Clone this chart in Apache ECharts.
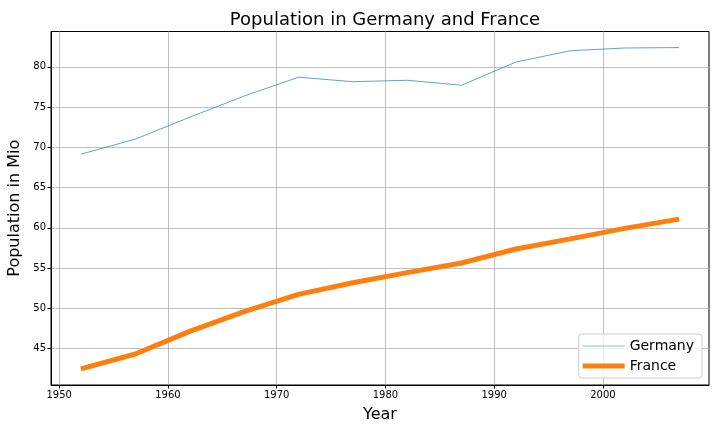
<!DOCTYPE html>
<html><head><meta charset="utf-8">
<script src="https://cdn.jsdelivr.net/npm/echarts@6/dist/echarts.min.js"></script>
<style>html,body{margin:0;padding:0;background:#fff}#c{width:720px;height:432px}</style>
</head><body><div id="c"></div>
<script>
const years = [1952,1957,1962,1967,1972,1977,1982,1987,1992,1997,2002,2007];
const germany = [69.15,71.02,73.74,76.37,78.72,78.16,78.34,77.72,80.60,82.01,82.35,82.40];
const france = [42.46,44.31,47.12,49.57,51.73,53.17,54.43,55.63,57.37,58.62,59.93,61.08];
const xTicks = [1950,1960,1970,1980,1990,2000];
const yTicks = [45,50,55,60,65,70,75,80];

const font = 'DejaVu Sans';
const chart = echarts.init(document.getElementById('c'), null, {renderer:'canvas'});
chart.setOption({
  animation:false,
  backgroundColor:'#fff',
  title:{text:'Population in Germany and France',left:380,top:6,textAlign:'center',
    textStyle:{fontFamily:font,fontSize:18,fontWeight:'normal',color:'#000'}},
  grid:{left:51,top:31.5,width:658,height:353.5,show:true,borderColor:'#000',borderWidth:1,containLabel:false,outerBoundsMode:'none'},
  legend:{right:18,bottom:54,orient:'vertical',itemGap:6,itemWidth:42,itemHeight:5,
    backgroundColor:'rgba(255,255,255,0.8)',borderColor:'#ccc',borderWidth:1,borderRadius:3,padding:[5,8,5,4],
    textStyle:{fontFamily:font,fontSize:14,color:'#000'},
    data:[{name:'Germany',icon:'path://M0,2.3L42,2.3L42,2.7L0,2.7Z'},{name:'France',icon:'rect'}]},
  xAxis:{type:'value',min:1949.25,max:2009.75,
    name:'Year',nameLocation:'middle',nameGap:22,nameTextStyle:{fontFamily:font,fontSize:16,color:'#000'},
    axisLine:{show:true,lineStyle:{color:'#000',width:1}},
    axisTick:{show:true,length:3.5,inside:false,customValues:xTicks,lineStyle:{color:'#000'}},
    axisLabel:{customValues:xTicks,formatter:v=>String(v),fontFamily:font,fontSize:10,color:'#000',margin:5},
    splitLine:{show:true,lineStyle:{color:'#b0b0b0',width:0.8}}},
  yAxis:{type:'value',min:40.46,max:84.40,
    name:'Population in Mio',nameLocation:'middle',nameGap:23,nameTextStyle:{fontFamily:font,fontSize:16,color:'#000'},
    axisLine:{show:true,lineStyle:{color:'#000',width:1}},
    axisTick:{show:true,length:3.5,inside:false,customValues:yTicks,lineStyle:{color:'#000'}},
    axisLabel:{customValues:yTicks,formatter:v=>String(v),fontFamily:font,fontSize:10,color:'#000',margin:5},
    splitLine:{show:true,lineStyle:{color:'#b0b0b0',width:0.8}}},
  series:[
    {name:'Germany',type:'line',data:years.map((y,i)=>[y,germany[i]]),showSymbol:false,symbol:'none',
      lineStyle:{color:'#1f77b4',width:0.7},itemStyle:{color:'#1f77b4'}},
    {name:'France',type:'line',data:years.map((y,i)=>[y,france[i]]),showSymbol:false,symbol:'none',
      lineStyle:{color:'#ff7f0e',width:5},itemStyle:{color:'#ff7f0e'}}
  ]
});
</script></body></html>
